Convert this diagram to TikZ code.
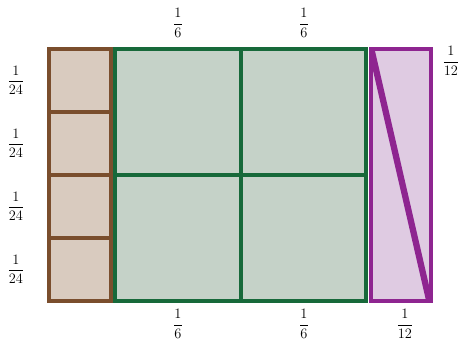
\documentclass[tikz,border=0pt]{standalone}
\usepackage{amsmath}
\definecolor{brS}{HTML}{7A4E2D}
\definecolor{brF}{HTML}{D9CBBF}
\definecolor{grS}{HTML}{17693A}
\definecolor{grF}{HTML}{C5D2C8}
\definecolor{puS}{HTML}{8E2590}
\definecolor{puF}{HTML}{DFCBE2}
\tikzset{
  lab/.style={inner sep=0pt, font=\fontsize{14}{16}\selectfont},
  edge/.style={line width=4pt, line join=miter}
}
\newcommand{\fr}[2]{$\dfrac{#1}{#2}$}
\begin{document}
\begin{tikzpicture}[x=1pt,y=-1pt]
\useasboundingbox (0,0) rectangle (460,345);
% fills
\fill[brF] (49.3,49.3) rectangle (111.3,300.7);
\fill[grF] (115.3,49.3) rectangle (366.3,300.7);
\fill[puF] (371.3,49.3) rectangle (430.7,300.7);
% brown column
\draw[edge, brS] (49.3,49.3) rectangle (111.3,300.7);
\foreach \yy in {112.15,175,237.85} \draw[edge, brS] (49.3,\yy) -- (111.3,\yy);
% green block
\draw[edge, grS] (241,49.3) -- (241,300.7);
\draw[edge, grS] (115.3,175.3) -- (366.3,175.3);
\draw[edge, grS] (115.3,49.3) rectangle (366.3,300.7);
% purple column
\begin{scope}
\clip (371.3,49.3) rectangle (430.7,300.7);
\draw[line width=6.3pt, puS] (370.6,46) -- (429.8,303);
\end{scope}
\draw[edge, puS] (371.3,49.3) rectangle (430.7,300.7);
% labels
\node[lab] (t1) at (178,23) {\fr{1}{6}};
\node[lab] (t2) at (304,23) {\fr{1}{6}};
\node[lab] (b1) at (178,324) {\fr{1}{6}};
\node[lab] (b2) at (304,324) {\fr{1}{6}};
\node[lab] (b3) at (405,324) {\fr{1}{12}};
\node[lab] (r1) at (451,61) {\fr{1}{12}};
\node[lab] (l1) at (16,80.5) {\fr{1}{24}};
\node[lab] (l2) at (16,143.5) {\fr{1}{24}};
\node[lab] (l3) at (16,206.5) {\fr{1}{24}};
\node[lab] (l4) at (16,269.5) {\fr{1}{24}};
\end{tikzpicture}
\end{document}
